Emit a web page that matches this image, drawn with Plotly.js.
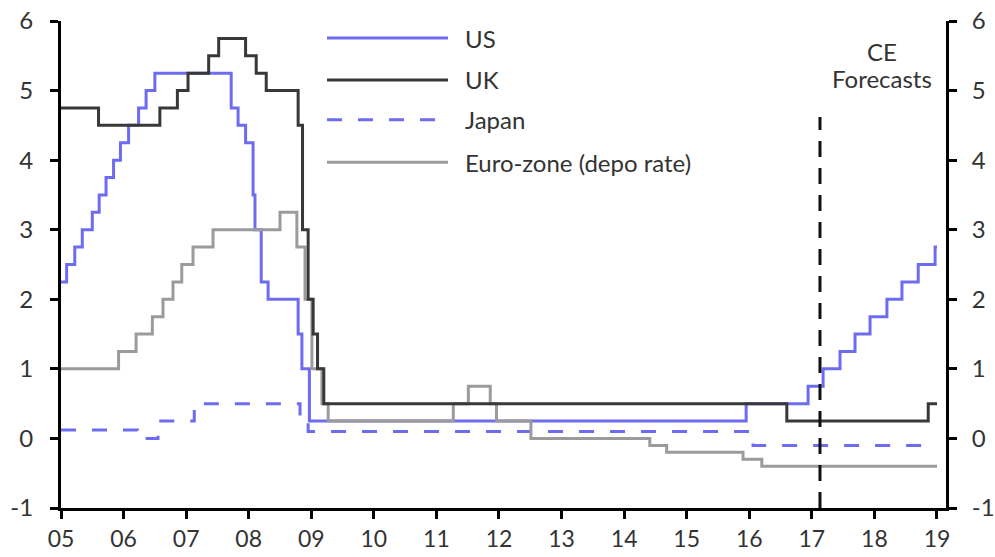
<!DOCTYPE html>
<html>
<head>
<meta charset="utf-8">
<script src="https://cdn.plot.ly/plotly-3.0.1.min.js"></script>
<style>
  html, body { margin: 0; padding: 0; background: #fff; }
  #chart { width: 995px; height: 557px; }
</style>
</head>
<body>
<div id="chart"></div>
<script>
// ---- Data (decimal years; step changes, drawn with 'hv' line shape) ----
const usDates = [2005.0, 2005.09, 2005.22, 2005.34, 2005.5, 2005.61, 2005.72, 2005.84, 2005.95, 2006.08, 2006.24, 2006.36, 2006.5, 2007.72, 2007.83, 2007.95, 2008.07, 2008.1, 2008.2, 2008.31, 2008.79, 2008.85, 2008.97, 2015.95, 2016.94, 2017.18, 2017.45, 2017.69, 2017.93, 2018.2, 2018.44, 2018.7, 2018.97, 2019.0];
const usRates = [2.25, 2.5, 2.75, 3.0, 3.25, 3.5, 3.75, 4.0, 4.25, 4.5, 4.75, 5.0, 5.25, 4.75, 4.5, 4.25, 3.5, 3.0, 2.25, 2.0, 1.5, 1.0, 0.25, 0.5, 0.75, 1.0, 1.25, 1.5, 1.75, 2.0, 2.25, 2.5, 2.75, 2.75];

const ukDates = [2005.0, 2005.6, 2006.58, 2006.86, 2007.03, 2007.36, 2007.52, 2007.95, 2008.12, 2008.28, 2008.79, 2008.86, 2008.95, 2009.03, 2009.1, 2009.2, 2016.6, 2018.86, 2019.0];
const ukRates = [4.75, 4.5, 4.75, 5.0, 5.25, 5.5, 5.75, 5.5, 5.25, 5.0, 4.5, 3.0, 2.0, 1.5, 1.0, 0.5, 0.25, 0.5, 0.5];

const jpDates = [2005.0, 2006.22, 2006.55, 2007.13, 2008.82, 2008.95, 2016.06, 2019.0];
const jpRates = [0.12, 0.0, 0.25, 0.5, 0.3, 0.1, -0.1, -0.1];

const euDates = [2005.0, 2005.92, 2006.2, 2006.46, 2006.63, 2006.79, 2006.93, 2007.11, 2007.43, 2008.5, 2008.77, 2008.9, 2009.01, 2009.17, 2009.27, 2011.27, 2011.51, 2011.86, 2011.96, 2012.51, 2014.41, 2014.68, 2015.9, 2016.2, 2019.0];
const euRates = [1.0, 1.25, 1.5, 1.75, 2.0, 2.25, 2.5, 2.75, 3.0, 3.25, 2.75, 2.0, 1.0, 0.5, 0.25, 0.5, 0.75, 0.5, 0.25, 0.0, -0.1, -0.2, -0.3, -0.4, -0.4];

const seriesNames = ['US', 'UK', 'Japan', 'Euro-zone (depo rate)'];
const yearTicks = [2005, 2006, 2007, 2008, 2009, 2010, 2011, 2012, 2013, 2014, 2015, 2016, 2017, 2018, 2019];
const yearLabels = ['05', '06', '07', '08', '09', '10', '11', '12', '13', '14', '15', '16', '17', '18', '19'];
const yTicks = [-1, 0, 1, 2, 3, 4, 5, 6];
const yLabels = ['-1', '0', '1', '2', '3', '4', '5', '6'];
const forecastStart = 2017.13;
const forecastTop = 4.62;
const forecastText = ['CE', 'Forecasts'];

// ---- Styles ----
const BLUE = '#6d6cf0';
const DARK = '#383838';
const GREY = '#9b9b9b';
const TXT = '#333333';
const FONT = 'Lato, "Open Sans", "DejaVu Sans", sans-serif';
const JP_DASH = '15px,16px';

const traces = [
  { x: usDates, y: usRates, name: seriesNames[0], type: 'scatter', mode: 'lines',
    line: { shape: 'hv', color: BLUE, width: 3 } },
  { x: jpDates, y: jpRates, name: seriesNames[2], type: 'scatter', mode: 'lines',
    line: { shape: 'hv', color: BLUE, width: 3, dash: JP_DASH } },
  { x: euDates, y: euRates, name: seriesNames[3], type: 'scatter', mode: 'lines',
    line: { shape: 'hv', color: GREY, width: 3 } },
  { x: ukDates, y: ukRates, name: seriesNames[1], type: 'scatter', mode: 'lines',
    line: { shape: 'hv', color: DARK, width: 3 } },
  { x: [yearTicks[0]], y: [yTicks[0]], yaxis: 'y2', type: 'scatter', mode: 'markers',
    marker: { opacity: 0 }, hoverinfo: 'skip', showlegend: false }
];

// Manual legend (long sample lines like the reference)
const legendItems = [
  { name: seriesNames[0], color: BLUE, dash: 'solid', y: 0.965 },
  { name: seriesNames[1], color: DARK, dash: 'solid', y: 0.879 },
  { name: seriesNames[2], color: BLUE, dash: JP_DASH, y: 0.797 },
  { name: seriesNames[3], color: GREY, dash: 'solid', y: 0.710 }
];

const shapes = [
  { type: 'line', xref: 'x', yref: 'y', x0: forecastStart, x1: forecastStart, y0: yTicks[0], y1: forecastTop,
    line: { color: '#111', width: 3, dash: '16px,11px' } }
];
const annotations = [];
legendItems.forEach(it => {
  shapes.push({ type: 'line', xref: 'paper', yref: 'paper', x0: 0.3006, x1: 0.4373, y0: it.y, y1: it.y,
    line: { color: it.color, width: 3, dash: it.dash } });
  annotations.push({ xref: 'paper', yref: 'paper', x: 0.4542, y: it.y, xanchor: 'left', yanchor: 'middle',
    text: it.name, showarrow: false, font: { family: FONT, size: 24, color: TXT } });
});
annotations.push({ xref: 'paper', yref: 'paper', x: 0.928, y: 0.938, xanchor: 'center', yanchor: 'middle',
  text: forecastText[0], showarrow: false, font: { family: FONT, size: 24, color: TXT } });
annotations.push({ xref: 'paper', yref: 'paper', x: 0.928, y: 0.881, xanchor: 'center', yanchor: 'middle',
  text: forecastText[1], showarrow: false, font: { family: FONT, size: 24, color: TXT } });

const axisCommon = {
  showgrid: false, zeroline: false, showline: true, linecolor: '#000', linewidth: 3,
  ticks: 'outside', ticklen: 8, tickwidth: 3, tickcolor: '#000',
  tickfont: { family: FONT, size: 24, color: TXT }
};

const layout = {
  width: 995, height: 557,
  margin: { l: 61, r: 49, t: 21, b: 49 },
  paper_bgcolor: '#fff', plot_bgcolor: '#fff',
  showlegend: false,
  font: { family: FONT, size: 24, color: TXT },
  xaxis: Object.assign({}, axisCommon, {
    range: [2005, 2019.144], tickvals: yearTicks, ticktext: yearLabels, ticklabelstandoff: 0,
    tickfont: { family: FONT, size: 23, color: TXT }
  }),
  yaxis: Object.assign({}, axisCommon, {
    range: [-1, 6], tickvals: yTicks, ticktext: yLabels, ticklabelstandoff: 12
  }),
  yaxis2: Object.assign({}, axisCommon, {
    range: [-1, 6], tickvals: yTicks, ticktext: yLabels, overlaying: 'y', side: 'right', anchor: 'x', ticklabelstandoff: 10
  }),
  shapes: shapes,
  annotations: annotations
};

Plotly.newPlot('chart', traces, layout, { staticPlot: true, displayModeBar: false });
</script>
</body>
</html>
